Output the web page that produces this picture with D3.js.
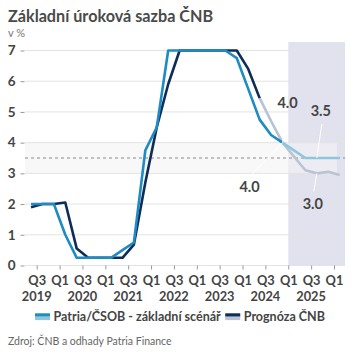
<!DOCTYPE html>
<html><head><meta charset="utf-8">
<script src="https://cdn.jsdelivr.net/npm/d3@7"></script>
<style>body{margin:0;background:#fff} svg text{font-family:Lato, "Open Sans", sans-serif}</style>
</head><body><svg id="c" width="360" height="360"></svg>
<script>
const quarters = ["Q2 2019","Q3 2019","Q4 2019","Q1 2020","Q2 2020","Q3 2020","Q4 2020","Q1 2021","Q2 2021","Q3 2021","Q4 2021","Q1 2022","Q2 2022","Q3 2022","Q4 2022","Q1 2023","Q2 2023","Q3 2023","Q4 2023","Q1 2024","Q2 2024","Q3 2024","Q4 2024","Q1 2025","Q2 2025","Q3 2025","Q4 2025","Q1 2026"];
const patriaActual = [2.0,2.0,2.0,1.0,0.25,0.25,0.25,0.25,0.5,0.75,3.75,4.5,7.0,7.0,7.0,7.0,7.0,7.0,6.75,5.75,4.75,4.25,4.0];
const patriaForecastStart = "Q4 2024";
const patriaForecast = [4.0,3.75,3.5,3.5,3.5,3.5];
const cnbActual = [1.9,2.0,2.0,2.05,0.55,0.25,0.25,0.25,0.25,0.68,2.7,4.5,5.9,7.0,7.0,7.0,7.0,7.0,7.0,6.4,5.45];
const cnbForecastStart = "Q2 2024";
const cnbForecast = [5.45,4.7,4.0,3.55,3.1,3.0,3.05,2.95];
const yTicks = [0,1,2,3,4,5,6,7];
const xTickQuarters = ["Q3 2019","Q1 2020","Q3 2020","Q1 2021","Q3 2021","Q1 2022","Q3 2022","Q1 2023","Q3 2023","Q1 2024","Q3 2024","Q1 2025","Q3 2025","Q1 2026"];
const yearLabels = ["2019","2020","2021","2022","2023","2024","2025"];
const forecastFrom = "Q1 2025";
const targetBand = [3, 4];
const targetLine = 3.5;
const annotations = [
  {text:"4.0", series:"patria", quarter:"Q4 2024", value:4.0},
  {text:"3.5", series:"patria", quarter:"Q3 2025", value:3.5},
  {text:"4.0", series:"cnb", quarter:"Q4 2024", value:4.0},
  {text:"3.0", series:"cnb", quarter:"Q3 2025", value:3.0}
];
const legendItems = [
  {label:"Patria/ČSOB - základní scénář", c1:"#1e8bc3", c2:"#8fc5dd"},
  {label:"Prognóza ČNB", c1:"#0f2c57", c2:"#b9c3d3"}
];

const svg = d3.select("#c");
const qi = q => quarters.indexOf(q);
const plotLeft = 25, plotRight = 345, plotTop = 42;
const x = d3.scaleLinear().domain([0, 27]).range([31, 339.7]);
const y = d3.scaleLinear().domain([0, 7]).range([265.5, 50.5]);

// forecast shading
svg.append("rect").attr("x", x(qi(forecastFrom) - 0.5)).attr("y", plotTop)
  .attr("width", plotRight - x(qi(forecastFrom) - 0.5)).attr("height", y(0) - plotTop)
  .attr("fill", "#e2e2ef");
// target band
svg.append("rect").attr("x", plotLeft).attr("y", y(targetBand[1]))
  .attr("width", 337 - plotLeft).attr("height", y(targetBand[0]) - y(targetBand[1]))
  .attr("fill", "rgba(244,244,244,0.6)");
// gridlines
svg.append("g").selectAll("line").data(yTicks).join("line")
  .attr("x1", plotLeft).attr("x2", plotRight).attr("y1", d => y(d)).attr("y2", d => y(d))
  .attr("stroke", "#e3e3e3").attr("stroke-width", 1);
// dashed target line
svg.append("line").attr("x1", plotLeft).attr("x2", plotRight).attr("y1", y(targetLine)).attr("y2", y(targetLine))
  .attr("stroke", "#8a8a8a").attr("stroke-width", 1).attr("stroke-dasharray", "3,3");

// y axis
const ya = svg.append("g").attr("transform", `translate(${plotLeft - 0.5},0)`)
  .call(d3.axisLeft(y).tickValues(yTicks).tickSize(4).tickPadding(5).tickFormat(d3.format("d")));
ya.select(".domain").remove();
ya.selectAll("line").attr("stroke", "#999");
ya.selectAll("text").attr("fill", "#444").attr("font-size", 13.5).attr("font-weight", "bold");

// x axis
const xa = svg.append("g").attr("transform", `translate(0,${y(0)})`)
  .call(d3.axisBottom(x).tickValues(xTickQuarters.map(q => qi(q) - 0.5)).tickSize(4).tickPadding(6)
    .tickFormat((d, i) => xTickQuarters[i].split(" ")[0]));
xa.select(".domain").remove();
xa.selectAll("line").attr("stroke", "#999");
xa.selectAll("text").attr("fill", "#444").attr("font-size", 12.8).attr("font-weight", "bold");
svg.append("g").selectAll("text").data(yearLabels).join("text")
  .attr("x", d => x(qi("Q3 " + d) - 0.5)).attr("y", 300.5).attr("text-anchor", "middle")
  .attr("fill", "#444").attr("font-size", 12.8).attr("font-weight", "bold").text(d => d);

// lines
const line = d3.line().x(d => x(d[0])).y(d => y(d[1]));
function drawSeries(vals, start, color) {
  const pts = vals.map((v, i) => [start + i, v]);
  svg.append("path").attr("d", line(pts)).attr("fill", "none").attr("stroke", color)
    .attr("stroke-width", 2.6).attr("stroke-linejoin", "round");
}
drawSeries(cnbForecast, qi(cnbForecastStart), legendItems[1].c2);
drawSeries(cnbActual, 0, legendItems[1].c1);
drawSeries(patriaForecast, qi(patriaForecastStart), legendItems[0].c2);
drawSeries(patriaActual, 0, legendItems[0].c1);

// annotations
const annOffsets = {
  "patria|Q4 2024": {lx1: 5, ly1: -30, tx: 5, ty: -35},
  "patria|Q3 2025": {lx1: 5, ly1: -34, tx: 4, ty: -42},
  "cnb|Q4 2024": {lx1: -30, ly1: 31, tx: -33, ty: 49},
  "cnb|Q3 2025": {lx1: -3, ly1: 18, tx: -4, ty: 36}
};
annotations.forEach(a => {
  const o = annOffsets[a.series + "|" + a.quarter];
  const px = x(qi(a.quarter)), py = y(a.value);
  svg.append("line").attr("x1", px + o.lx1).attr("y1", py + o.ly1).attr("x2", px).attr("y2", py)
    .attr("stroke", "#fff").attr("stroke-width", 1);
  svg.append("text").attr("x", px + o.tx).attr("y", py + o.ty).attr("text-anchor", "middle")
    .attr("fill", "#444").attr("font-size", 14.5).attr("font-weight", "bold").text(a.text);
});

// title
svg.append("text").attr("x", 8).attr("y", 21.5).attr("fill", "#4a4a4a").attr("font-size", 16.2)
  .attr("font-family", "'Open Sans', sans-serif")
  .attr("font-weight", "bold").text("Základní úroková sazba ČNB");
svg.append("text").attr("x", 8).attr("y", 37).attr("fill", "#777").attr("font-size", 11).text("v %");

// legend (centred)
const lg = svg.append("g");
let cursor = 0;
legendItems.forEach((it, i) => {
  const g = lg.append("g").attr("transform", `translate(${cursor},0)`);
  g.append("rect").attr("width", 15).attr("height", 3.4).attr("fill", it.c1);
  g.append("rect").attr("y", 3.4).attr("width", 15).attr("height", 3.4).attr("fill", it.c2);
  const t = g.append("text").attr("x", 18.5).attr("y", 7.4).attr("fill", "#444").attr("font-size", 12.5)
    .attr("font-weight", "bold").text(it.label);
  cursor += 18.5 + t.node().getComputedTextLength() + 4.5;
});
const lw = cursor - 4.5;
lg.attr("transform", `translate(${180 - lw / 2},313.3)`);

svg.append("text").attr("x", 8).attr("y", 344.5).attr("fill", "#666").attr("font-size", 10.5)
  .text("Zdroj: ČNB a odhady Patria Finance");
</script></body></html>
